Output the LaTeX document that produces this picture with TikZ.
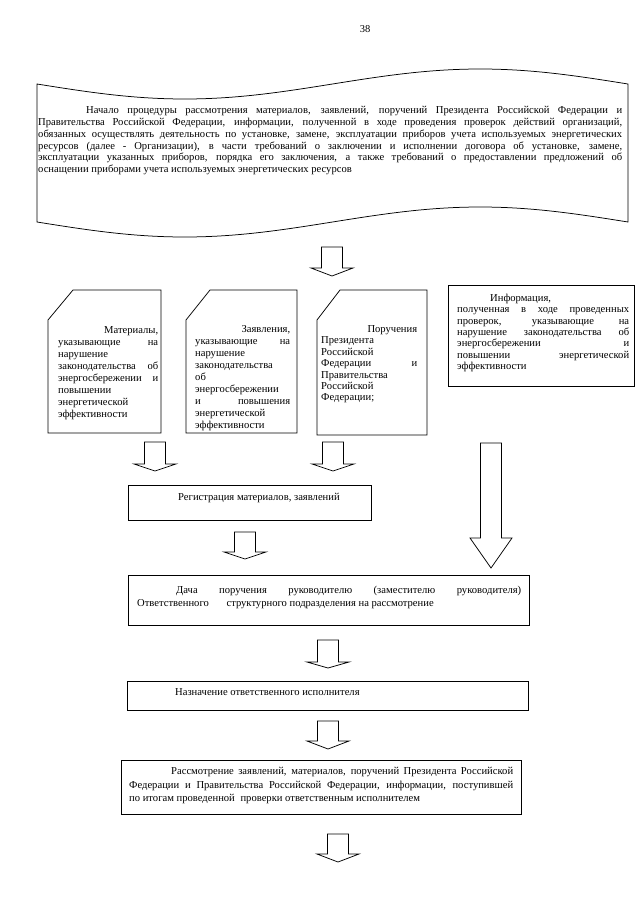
\documentclass[tikz,border=0pt]{standalone}
\usepackage{fontspec}
\setmainfont{Liberation Serif}
\newcommand{\blockarrow}[5]{%
  \draw[arr] ({#1-10.5},#2) -- ({#1+10.5},#2) -- ({#1+10.5},#3) -- ({#1+#5},#3) -- (#1,#4) -- ({#1-#5},#3) -- ({#1-10.5},#3) -- cycle;}
\begin{document}
\begin{tikzpicture}[x=1pt,y=-1pt,
  box/.style={draw=black, line width=0.75pt},
  arr/.style={draw=black, line width=0.75pt, fill=white},
  txt/.style={inner sep=0pt, anchor=north west, align=justify, font=\fontsize{10.6}{11.8}\selectfont},
  one/.style={inner sep=0pt, anchor=base west, font=\fontsize{10.6}{11.8}\selectfont}]
\useasboundingbox (0,0) rectangle (640,905);
\fill[white] (0,0) rectangle (640,905);

\node[inner sep=0pt, font=\fontsize{10.5}{12}\selectfont] (pagenum) at (365,29) {38};

% wave box
\draw[box] (37,84) sin (184.75,99) cos (332.5,84) sin (480.25,69) cos (628,84) -- (628,222)
  sin (480.25,207) cos (332.5,222) sin (184.75,237) cos (37,222) -- cycle;
\node[txt, text width=584pt] (maintxt) at (38,106.3) {\noindent\hspace*{48pt}Начало процедуры рассмотрения материалов, заявлений, поручений Президента Российской Федерации и\linebreak
Правительства Российской Федерации, информации, полученной в ходе проведения проверок действий организаций,\linebreak
обязанных осуществлять деятельность по установке, замене, эксплуатации приборов учета используемых энергетических\linebreak
ресурсов (далее - Организации), в части требований о заключении и исполнении договора об установке, замене,\linebreak
эксплуатации указанных приборов, порядка его заключения, а также требований о предоставлении предложений об\linebreak
оснащении приборами учета используемых энергетических ресурсов};

\blockarrow{332}{247}{268}{276}{21}

% documents
\draw[box] (73,290) -- (161,290) -- (161,433) -- (48,433) -- (48,320) -- cycle;
\node[txt, text width=100pt, font=\fontsize{10.6}{12}\selectfont] (doc1) at (58,326.3) {\noindent\hspace*{\fill}Материалы,\linebreak
указывающие на\linebreak
нарушение\newline
законодательства об\linebreak
энергосбережении и\linebreak
повышении\newline
энергетической\newline
эффективности};

\draw[box] (210,290) -- (297,290) -- (297,433) -- (186,433) -- (186,320) -- cycle;
\node[txt, text width=95pt, font=\fontsize{10.6}{12}\selectfont] (doc2) at (195,325.3) {\noindent\hspace*{\fill}Заявления,\linebreak
указывающие на\linebreak
нарушение\newline
законодательства\newline
об\newline
энергосбережении\newline
и повышения\linebreak
энергетической\newline
эффективности};

\draw[box] (340,290) -- (427,290) -- (427,435) -- (317,435) -- (317,320) -- cycle;
\node[txt, text width=96pt, font=\fontsize{10.6}{11.4}\selectfont] (doc3) at (321,325.3) {\noindent\hspace*{\fill}Поручения\linebreak
Президента\newline
Российской\newline
Федерации и\linebreak
Правительства\newline
Российской\newline
Федерации;};

\draw[box] (448,285) rectangle (634,386);
\node[txt, text width=172pt, font=\fontsize{10.6}{11.4}\selectfont] (info) at (457,293.8) {\noindent\hspace*{33pt}Информация,\newline
полученная в ходе проведенных\linebreak
проверок, указывающие на\linebreak
нарушение законодательства об\linebreak
энергосбережении и\linebreak
повышении энергетической\linebreak
эффективности};

\blockarrow{155}{442}{464}{471}{21}
\blockarrow{333}{442}{464}{471}{21}
\blockarrow{491}{443}{538}{568}{21}

% registration
\draw[box] (128,485) rectangle (371,520);
\node[one] (reg) at (178,500.5) {Регистрация материалов, заявлений};

\blockarrow{245}{532}{552}{559}{21}

% dacha
\draw[box] (128,575) rectangle (529,625);
\node[txt, text width=384pt, font=\fontsize{10.6}{12.5}\selectfont] (dacha) at (137,586.3) {\noindent\hspace*{39pt}Дача поручения руководителю (заместителю руководителя)\linebreak
Ответственного\hspace{15pt} структурного подразделения на рассмотрение};

\blockarrow{328}{640}{662}{668}{21}

% assign
\draw[box] (127,681) rectangle (528,710);
\node[one] (naznach) at (175,695.5) {Назначение ответственного исполнителя};

\blockarrow{328}{721}{741}{749}{21}

% review
\draw[box] (121,760) rectangle (521,814);
\node[txt, text width=384pt, font=\fontsize{10.6}{13.5}\selectfont] (review) at (129,767.3) {\noindent\hspace*{42pt}Рассмотрение заявлений, материалов, поручений Президента Российской\linebreak
Федерации и Правительства Российской Федерации, информации, поступившей\linebreak
по итогам проведенной\hspace{3pt} проверки ответственным исполнителем};

\blockarrow{338}{834}{854}{862}{21}
\end{tikzpicture}
\end{document}
